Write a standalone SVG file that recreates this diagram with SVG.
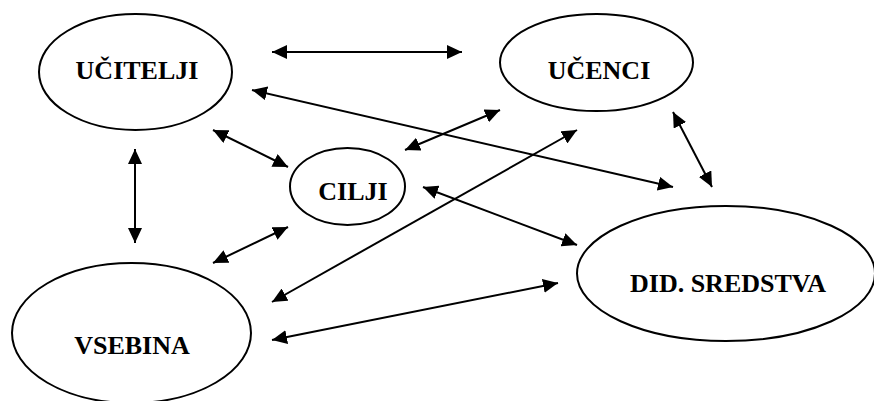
<svg xmlns="http://www.w3.org/2000/svg" width="874" height="401" viewBox="0 0 874 401">
<style>
.node ellipse{fill:#fff;stroke:#000;stroke-width:2}
.node text{font-family:"Liberation Serif","Times New Roman",serif;font-weight:bold;font-size:26px;fill:#000;text-anchor:middle}
#edges line{stroke:#000;stroke-width:2;marker-start:url(#ah);marker-end:url(#ah)}
</style>
<defs>
<marker id="ah" viewBox="0 0 15 14" refX="15" refY="7" markerWidth="15" markerHeight="14" markerUnits="userSpaceOnUse" orient="auto-start-reverse">
<path d="M0,0 L15,7 L0,14 z" fill="#000"/>
</marker>
</defs>
<rect width="874" height="401" fill="#fff"/>
<g id="n-ucitelji" class="node">
<ellipse cx="135.5" cy="72" rx="96.5" ry="58"/>
<text x="137" y="79">UČITELJI</text>
</g>
<g id="n-ucenci" class="node">
<ellipse cx="596.5" cy="62.5" rx="96.5" ry="48.5"/>
<text x="599" y="79">UČENCI</text>
</g>
<g id="n-cilji" class="node">
<ellipse cx="347.5" cy="186.5" rx="57.5" ry="38.5"/>
<text x="353" y="200">CILJI</text>
</g>
<g id="n-vsebina" class="node">
<ellipse cx="131.5" cy="333" rx="119.5" ry="70"/>
<text x="132" y="354">VSEBINA</text>
</g>
<g id="n-did" class="node">
<ellipse cx="726" cy="273.5" rx="149" ry="67.5"/>
<text x="728" y="292">DID. SREDSTVA</text>
</g>
<g id="edges">
<line x1="272" y1="52" x2="462" y2="52"/>
<line x1="252" y1="90" x2="673" y2="187"/>
<line x1="213" y1="130" x2="288" y2="167"/>
<line x1="135" y1="149" x2="135" y2="243"/>
<line x1="405" y1="150" x2="500" y2="110"/>
<line x1="673" y1="112" x2="712" y2="187"/>
<line x1="272" y1="302" x2="577" y2="130"/>
<line x1="423" y1="187" x2="577" y2="245"/>
<line x1="213" y1="263" x2="288" y2="227"/>
<line x1="272" y1="340" x2="558" y2="283"/>
</g>
</svg>
